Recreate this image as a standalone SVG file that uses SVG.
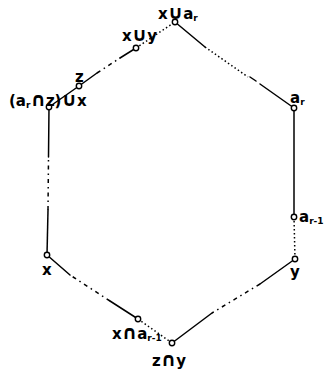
<svg xmlns="http://www.w3.org/2000/svg" width="327" height="372" viewBox="0 0 327 372">
<style>
.s{stroke:#000;stroke-width:1.5;fill:none;stroke-linecap:round}
.d{stroke:#000;stroke-width:1.5;fill:none;stroke-dasharray:4 4 1.5 4}
.o{stroke:#000;stroke-width:1.5;fill:none;stroke-dasharray:1.5 2.5}
.n{fill:#fff;stroke:#000;stroke-width:1.4}
text{font-family:"DejaVu Sans","Liberation Sans",sans-serif;font-weight:bold;font-size:15px;fill:#000}
.sub{font-size:9px}
.op{font-size:19px}
</style>
<rect width="327" height="372" fill="#fff"/>
<g id="connectors">
<line class="s" x1="79" y1="86" x2="49" y2="107"/>
<line class="s" x1="79" y1="86" x2="97" y2="73"/>
<line class="d" x1="97" y1="73" x2="120" y2="58"/>
<line class="s" x1="120" y1="58" x2="136" y2="48"/>
<line class="o" x1="136" y1="48" x2="175" y2="22"/>
<line class="s" x1="175" y1="22" x2="205" y2="47"/>
<line class="o" x1="205" y1="47" x2="248" y2="77"/>
<line class="s" x1="250" y1="77" x2="256" y2="81"/>
<line class="s" x1="260" y1="84" x2="294" y2="108"/>
<line class="s" x1="294" y1="108" x2="294" y2="217"/>
<line class="o" x1="294" y1="217" x2="295" y2="259"/>
<line class="s" x1="295" y1="259" x2="260" y2="284"/>
<line class="d" x1="260" y1="284" x2="212" y2="313"/>
<line class="s" x1="212" y1="313" x2="172" y2="343"/>
<line class="o" x1="172" y1="343" x2="138" y2="319"/>
<line class="s" x1="138" y1="319" x2="110" y2="301"/>
<line class="d" x1="110" y1="301" x2="70" y2="275"/>
<line class="s" x1="70" y1="275" x2="47" y2="255"/>
<line class="s" x1="47" y1="255" x2="48" y2="210"/>
<line class="d" x1="48" y1="210" x2="48.5" y2="157"/>
<line class="s" x1="48.5" y1="157" x2="49" y2="107"/>
</g>
<g id="n-xUar"><circle class="n" cx="175" cy="22" r="2.7"/><text x="158" y="19">x<tspan class="op">∪</tspan>a<tspan class="sub" dy="2">r</tspan></text></g>
<g id="n-xUy"><circle class="n" cx="136" cy="48" r="2.7"/><text x="122" y="41">x<tspan class="op">∪</tspan>y</text></g>
<g id="n-z"><circle class="n" cx="79" cy="86" r="2.7"/><text x="75" y="82">z</text></g>
<g id="n-arzx"><circle class="n" cx="49" cy="107" r="2.7"/><text x="9" y="106">(a<tspan class="sub" dy="2">r</tspan><tspan class="op" dy="-2">∩</tspan>z)<tspan class="op">∪</tspan>x</text></g>
<g id="n-ar"><circle class="n" cx="294" cy="108" r="2.7"/><text x="290" y="103">a<tspan class="sub" dy="2">r</tspan></text></g>
<g id="n-ar1"><circle class="n" cx="294" cy="217" r="2.7"/><text x="299" y="222">a<tspan class="sub" dy="2">r-1</tspan></text></g>
<g id="n-y"><circle class="n" cx="295" cy="259" r="2.7"/><text x="290" y="277">y</text></g>
<g id="n-zny"><circle class="n" cx="172" cy="343" r="2.7"/><text x="152" y="366">z<tspan class="op">∩</tspan>y</text></g>
<g id="n-xnar1"><circle class="n" cx="138" cy="319" r="2.7"/><text x="112" y="339">x<tspan class="op">∩</tspan>a<tspan class="sub" dy="2">r-1</tspan></text></g>
<g id="n-x"><circle class="n" cx="47" cy="255" r="2.7"/><text x="42" y="275">x</text></g>
</svg>
